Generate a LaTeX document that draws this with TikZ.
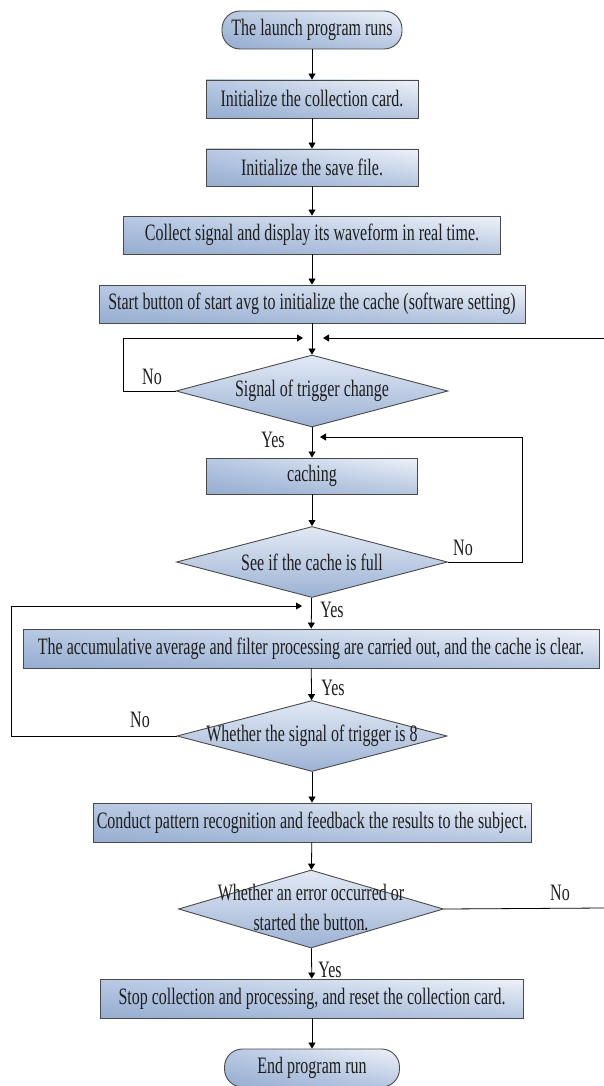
\documentclass[tikz,border=0pt]{standalone}
\usepackage{fontspec}
\setmainfont{Liberation Serif}[FakeStretch=0.68]
\usetikzlibrary{arrows.meta,shapes.geometric,shadings}
\definecolor{bord}{HTML}{4A4A4A}
\definecolor{txt}{HTML}{1E1E1E}
\definecolor{cUL}{HTML}{B8C9E3}
\definecolor{cUR}{HTML}{EEF2F9}
\definecolor{cLL}{HTML}{95ADD1}
\definecolor{cLR}{HTML}{B6C6E0}
\definecolor{dTop}{HTML}{E2E9F4}
\definecolor{dBot}{HTML}{9CB2D4}
\begin{document}
\begin{tikzpicture}[x=1pt,y=-1pt,
  font=\fontsize{23.5}{25}\selectfont, text=txt,
  proc/.style={draw=bord, line width=0.9pt, rectangle, inner sep=0pt,
    minimum height=38pt, upper left=cUL, upper right=cUR, lower left=cLL, lower right=cLR},
  term/.style={proc, rounded corners=18pt},
  dec/.style={diamond, draw=bord, line width=0.9pt, inner sep=0pt,
    top color=dTop, bottom color=dBot},
  lbl/.style={inner sep=0pt},
  arr/.style={draw=black, line width=0.8pt, -{Triangle[length=6pt,width=7pt]}},
  ln/.style={draw=black, line width=0.8pt}]
\useasboundingbox (0,0) rectangle (604,1086);
\fill[white] (0,0) rectangle (604,1086);

% nodes
\node[term, minimum width=180pt] (start) at (312,30) {The launch program runs};
\node[proc, minimum width=212pt] (b1) at (312,99) {Initialize the collection card.};
\node[proc, minimum width=212pt, minimum height=37pt] (b2) at (312,167.5) {Initialize the save file.};
\node[proc, minimum width=377pt] (b3) at (312,235) {Collect signal and display its waveform in real time.};
\node[proc, minimum width=426pt] (b4) at (312,304) {Start button of start avg to initialize the cache (software setting)};
\node[dec, minimum width=272pt, minimum height=72pt] (d1) at (312,391) {};
\node[lbl] (d1t) at (312,391) {Signal of trigger change};
\node[proc, minimum width=211pt, minimum height=36pt] (cach) at (312,476) {caching};
\node[dec, minimum width=271pt, minimum height=71pt] (d2) at (312,562) {};
\node[lbl] (d2t) at (312,562) {See if the cache is full};
\node[proc, minimum width=576pt, minimum height=39pt] (acc) at (311,648.5) {The accumulative average and filter processing are carried out, and the cache is clear.};
\node[dec, minimum width=270pt, minimum height=71pt] (d3) at (312,736) {};
\node[lbl] (d3t) at (312,736) {Whether the signal of trigger is 8};
\node[proc, minimum width=438pt, minimum height=39pt] (cond) at (312,822.5) {Conduct pattern recognition and feedback the results to the subject.};
\node[dec, minimum width=265pt, minimum height=78pt] (d4) at (311,909) {};
\node[lbl, align=center, font=\fontsize{23.5}{30}\selectfont] (d4t) at (311,908) {Whether an error occurred or\\started the button.};
\node[proc, minimum width=423pt, minimum height=39pt] (stop) at (312,998.5) {Stop collection and processing, and reset the collection card.};
\node[term, minimum width=175pt] (end) at (312,1068) {End program run};

% labels
\node[lbl] (no1) at (152,377) {No};
\node[lbl] (yes1) at (273,440) {Yes};
\node[lbl] (no2) at (463,548) {No};
\node[lbl] (yes2) at (332,610) {Yes};
\node[lbl] (yes3) at (333,688) {Yes};
\node[lbl] (no3) at (140,720) {No};
\node[lbl] (no4) at (560,893) {No};
\node[lbl] (yes4) at (330,970) {Yes};

% helper coordinates
\coordinate (l1) at (123,391);
\coordinate (t1) at (303,338);
\coordinate (r1) at (604,338);
\coordinate (t2) at (323,338);
\coordinate (r2) at (522,562);
\coordinate (t3) at (320,437);
\coordinate (l3) at (11,736);
\coordinate (t4) at (302,606);
\coordinate (r4) at (604,908);

% connectors
\draw[arr] (start) -- (b1);
\draw[arr] (b1) -- (b2);
\draw[arr] (b2) -- (b3);
\draw[arr] (b3) -- (b4);
\draw[arr] (b4) -- (d1);
\draw[arr] (d1.west) -- (l1) |- (t1);
\draw[arr] (r1) -- (t2);
\draw[arr] (d1) -- (cach);
\draw[arr] (cach) -- (d2);
\draw[arr] (d2.east) -- (r2) |- (t3);
\draw[arr] (d2) -- (acc);
\draw[arr] (acc) -- (d3);
\draw[arr] (d3.west) -- (l3) |- (t4);
\draw[arr] (d3) -- (cond);
\draw[arr] (cond) -- (d4);
\draw[ln] (d4.east) -- (r4);
\draw[arr] (d4) -- (stop);
\draw[arr] (stop) -- (end);
\end{tikzpicture}
\end{document}
